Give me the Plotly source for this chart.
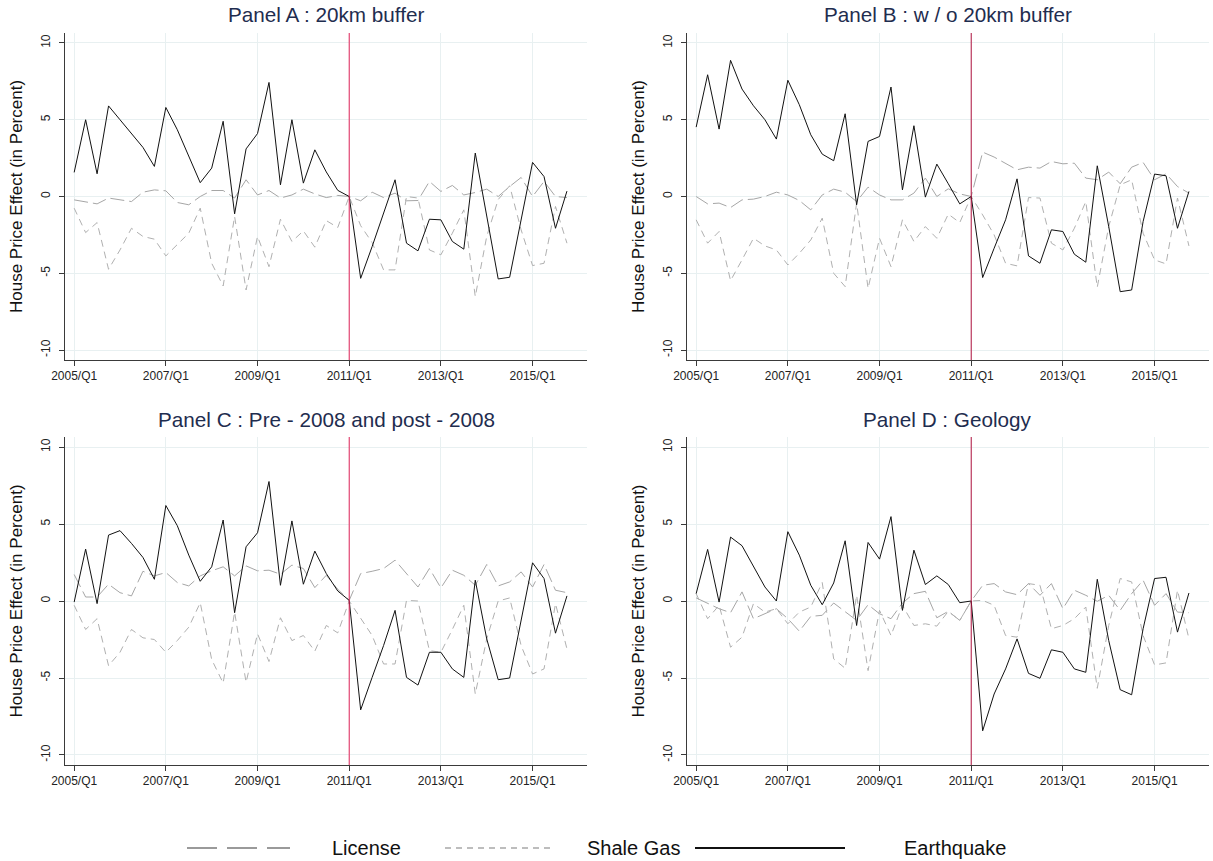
import plotly.graph_objects as go

# Quarterly periods 2005/Q1 .. 2015/Q4
quarters = [f"{y}/Q{q}" for y in range(2005, 2016) for q in range(1, 5)]
tick_labels = ["2005/Q1", "2007/Q1", "2009/Q1", "2011/Q1", "2013/Q1", "2015/Q1"]
event_quarter = "2011/Q1"

panel_titles = [
    "Panel A : 20km buffer",
    "Panel B : w / o 20km buffer",
    "Panel C : Pre - 2008 and post - 2008",
    "Panel D : Geology",
]

# Panel A
a_license = [-0.22, -0.37, -0.48, -0.10, -0.20, -0.33, 0.28, 0.43, 0.37, -0.39, -0.54, 0.00,
             0.39, 0.39, -0.10, 1.09, 0.10, 0.39, -0.10, 0.10, 0.48, 0.17, -0.07, 0.07, 0.00,
             -0.28, 0.28, -0.07, 0.22, -0.28, -0.26, 0.98, 0.33, 0.72, 0.10, 0.26, 0.48, 0.00,
             0.65, 1.24, 0.00, 0.98, 0.00, -0.07]
a_shale = [-0.76, -2.35, -1.70, -4.74, -3.48, -2.07, -2.60, -2.78, -3.87, -3.15, -2.39, -0.76,
           -4.35, -5.83, -1.30, -6.09, -2.60, -4.57, -1.48, -2.93, -2.24, -3.30, -1.57, -2.02, 0.00,
           -1.90, -3.00, -4.78, -4.78, 0.00, -0.10, -3.48, -3.80, -2.39, -0.87, -6.52, -2.60, -0.20,
           0.70, -2.17, -4.50, -4.35, -0.65, -3.04]
a_quake = [1.57, 5.00, 1.48, 5.90, 5.00, 4.10, 3.20, 1.96, 5.80, 4.35, 2.60, 0.90,
           1.85, 4.90, -1.13, 3.10, 4.10, 7.43, 0.76, 5.00, 0.87, 3.04, 1.60, 0.40, 0.00,
           -5.33, -3.26, -1.09, 1.09, -3.04, -3.54, -1.48, -1.52, -2.93, -3.43, 2.83, -1.30, -5.37,
           -5.26, -1.52, 2.22, 1.30, -2.07, 0.35]

# Panel B
b_license = [0.00, -0.48, -0.43, -0.72, -0.22, -0.17, 0.00, 0.28, 0.10, -0.26, -0.87, 0.10,
             0.48, 0.28, -0.33, 0.61, 0.10, -0.22, -0.22, 0.22, 1.20, 0.00, 0.50, 0.17, 0.00,
             2.89, 2.57, 2.17, 1.74, 1.91, 1.85, 2.28, 2.13, 2.17, 1.20, 1.09, 1.59, 0.83,
             1.91, 2.22, 1.09, 1.48, 0.65, 0.22]
b_shale = [-1.52, -3.04, -2.28, -5.48, -4.13, -2.72, -3.22, -3.48, -4.46, -3.70, -2.83, -1.41,
           -5.00, -5.87, -0.43, -5.98, -2.72, -4.57, -1.52, -2.93, -1.96, -2.72, -1.15, -1.70, 0.00,
           -1.20, -2.50, -4.35, -4.52, -0.07, -0.10, -3.04, -3.48, -2.07, -0.33, -5.91, -1.96, 0.76,
           1.09, -2.39, -4.13, -4.39, -0.10, -3.22]
b_quake = [4.52, 7.93, 4.39, 8.87, 7.00, 5.91, 5.00, 3.74, 7.57, 5.98, 4.02, 2.76,
           2.33, 5.39, -0.54, 3.59, 3.91, 7.13, 0.43, 4.61, -0.04, 2.11, 0.83, -0.48, 0.00,
           -5.28, -3.37, -1.52, 1.15, -3.87, -4.35, -2.17, -2.28, -3.76, -4.28, 2.00, -1.96, -6.20,
           -6.09, -1.63, 1.46, 1.35, -2.07, 0.33]

# Panel C
c_license = [1.72, 0.26, 0.26, 1.09, 0.54, 0.33, 1.93, 1.63, 1.85, 1.20, 0.98, 1.63,
             1.96, 2.22, 1.63, 2.28, 1.96, 2.00, 1.74, 2.33, 2.11, 0.87, 1.67, 0.76, 0.04,
             1.78, 1.93, 2.11, 2.65, 1.78, 0.91, 2.11, 0.85, 2.00, 1.67, 1.02, 2.37, 0.98,
             1.24, 1.89, 0.91, 2.37, 0.70, 0.54]
c_shale = [-0.28, -1.85, -1.15, -4.20, -3.33, -1.85, -2.39, -2.50, -3.33, -2.57, -1.70, -0.11,
           -3.80, -5.33, -0.72, -5.28, -2.13, -3.93, -1.09, -2.57, -2.24, -3.26, -1.59, -2.07, 0.00,
           -1.15, -2.24, -4.09, -4.09, 0.04, 0.00, -3.22, -3.33, -1.85, -0.28, -6.04, -2.46, 0.00,
           0.20, -2.89, -4.74, -4.41, -0.17, -3.11]
c_quake = [-0.07, 3.37, -0.17, 4.28, 4.57, 3.74, 2.83, 1.41, 6.20, 4.89, 2.98, 1.28,
           2.22, 5.26, -0.76, 3.52, 4.43, 7.76, 1.02, 5.20, 1.09, 3.24, 1.78, 0.65, 0.04,
           -7.07, -4.96, -2.89, -0.61, -4.96, -5.46, -3.33, -3.33, -4.41, -4.96, 1.35, -2.46, -5.11,
           -5.00, -1.26, 2.48, 1.46, -2.09, 0.33]

# Panel D
d_license = [0.20, -0.17, -0.50, -0.76, 0.59, -1.15, -0.83, -0.50, -1.15, -1.96, -1.00, -0.93,
             -0.13, -0.67, -1.26, -0.24, -0.83, -1.15, -0.13, 0.48, 0.63, -1.09, -0.67, -1.26, 0.00,
             1.02, 1.13, 0.59, 0.41, 1.13, 0.37, 1.13, -0.50, 0.70, 0.37, -0.02, 0.37, -0.61,
             0.48, 1.35, -0.28, 0.48, -0.72, -0.76]
d_shale = [0.48, -1.15, -0.28, -3.00, -2.35, -0.17, -0.72, -0.50, -1.48, -0.72, -0.39, 1.20,
           -3.76, -4.37, 0.37, -4.52, -0.61, -2.24, -0.28, -1.59, -1.48, -1.63, -0.67, -1.26, 0.00,
           0.04, -0.28, -2.24, -2.35, 1.13, 1.02, -1.80, -1.59, -1.15, -0.39, -5.67, -1.59, 1.46,
           1.24, -2.24, -4.15, -4.02, 0.70, -2.46]
d_quake = [0.48, 3.35, -0.07, 4.15, 3.59, 2.22, 0.91, 0.00, 4.50, 2.98, 1.02, -0.24,
           1.17, 3.91, -1.59, 3.80, 2.72, 5.48, -0.61, 3.30, 1.07, 1.63, 1.07, -0.11, 0.00,
           -8.43, -6.04, -4.41, -2.46, -4.70, -5.02, -3.17, -3.33, -4.41, -4.63, 1.41, -2.57, -5.76,
           -6.09, -1.80, 1.46, 1.54, -2.02, 0.52]

panels = [
    (a_license, a_shale, a_quake),
    (b_license, b_shale, b_quake),
    (c_license, c_shale, c_quake),
    (d_license, d_shale, d_quake),
]

W, H = 1213, 861
# plot-area boxes in pixels: (left, right, top, bottom)
boxes = [
    (65, 587, 33, 360),
    (687, 1209, 33, 360),
    (65, 587, 437, 765),
    (687, 1209, 437, 765),
]

FONT = "Arial, Liberation Sans, sans-serif"
GRID = "#e8f0f1"
AXIS = "#3a3a3a"
LIC_COLOR = "#a6a6a6"
SHALE_COLOR = "#b0b0b0"
QUAKE_COLOR = "#111111"
EVENT_COLORS = ["#e3245a", "#b3123f", "#e3245a", "#b3123f"]

fig = go.Figure()
layout = dict(
    width=W, height=H,
    margin=dict(l=0, r=0, t=0, b=0, autoexpand=False),
    paper_bgcolor="white", plot_bgcolor="white",
    showlegend=False,
    font=dict(family=FONT, color="#222"),
    annotations=[], shapes=[],
)

for k, ((lic, sha, qua), (l, r, t, b)) in enumerate(zip(panels, boxes)):
    n = "" if k == 0 else str(k + 1)
    xa, ya = "x" + n, "y" + n
    fig.add_trace(go.Scatter(x=quarters, y=lic, mode="lines", name="License",
                             line=dict(color=LIC_COLOR, width=1, dash="14px,5px"),
                             xaxis=xa, yaxis=ya))
    fig.add_trace(go.Scatter(x=quarters, y=sha, mode="lines", name="Shale Gas",
                             line=dict(color=SHALE_COLOR, width=1, dash="7px,5px"),
                             xaxis=xa, yaxis=ya))
    fig.add_trace(go.Scatter(x=quarters, y=qua, mode="lines", name="Earthquake",
                             line=dict(color=QUAKE_COLOR, width=1),
                             xaxis=xa, yaxis=ya))

    layout["xaxis" + n] = dict(
        domain=[l / W, r / W], anchor=ya, type="category",
        categoryorder="array", categoryarray=quarters,
        range=[-0.8, 44.75], automargin=False,
        tickmode="array", tickvals=tick_labels, ticktext=tick_labels,
        ticks="outside", ticklen=5, tickcolor=AXIS, tickwidth=1,
        showline=True, linecolor=AXIS, linewidth=1,
        showgrid=True, gridcolor=GRID, gridwidth=1,
        tickfont=dict(size=12, color="#222"), zeroline=False,
    )
    layout["yaxis" + n] = dict(
        domain=[1 - b / H, 1 - t / H], anchor=xa,
        range=[-10.65, 10.65], automargin=False,
        tickmode="array", tickvals=[-10, -5, 0, 5, 10],
        ticktext=["-10", "-5", "0", "5", "10"], tickangle=-90,
        ticks="outside", ticklen=5, tickcolor=AXIS, tickwidth=1,
        ticklabelstandoff=4,
        showline=True, linecolor=AXIS, linewidth=1,
        showgrid=True, gridcolor=GRID, gridwidth=1, zeroline=False,
        tickfont=dict(size=12, color="#222"),
        title=dict(text="House Price Effect (in Percent)",
                   font=dict(size=17, color="#111"), standoff=12),
    )
    # event marker at 2011/Q1
    layout["shapes"].append(dict(type="line", xref=xa, yref=ya + " domain",
                                 x0=event_quarter, x1=event_quarter, y0=0, y1=1,
                                 line=dict(color=EVENT_COLORS[k], width=1)))
    # panel title
    layout["annotations"].append(dict(text=panel_titles[k], xref="paper", yref="paper",
                                      x=(l + r) / 2 / W, y=1 - (t - 18) / H,
                                      xanchor="center", yanchor="middle", showarrow=False,
                                      font=dict(size=20.7, color="#1f2d4f")))

# legend row along the bottom
leg_y = 1 - 848 / H
legend_items = [
    ("License", 187, 290, 330, dict(color="#9a9a9a", width=2, dash="30px,10px")),
    ("Shale Gas", 445, 555, 585, dict(color="#a8a8a8", width=1.3, dash="6px,5px")),
    ("Earthquake", 695, 845, 902, dict(color="#111111", width=2)),
]
for label, x0, x1, xt, ln in legend_items:
    layout["shapes"].append(dict(type="line", xref="paper", yref="paper",
                                 x0=x0 / W, x1=x1 / W, y0=leg_y, y1=leg_y, line=ln))
    layout["annotations"].append(dict(text=label, xref="paper", yref="paper",
                                      x=xt / W, y=leg_y, xanchor="left", yanchor="middle",
                                      showarrow=False, font=dict(size=20, color="#111")))

fig.update_layout(**layout)
fig.write_html("out.html")
